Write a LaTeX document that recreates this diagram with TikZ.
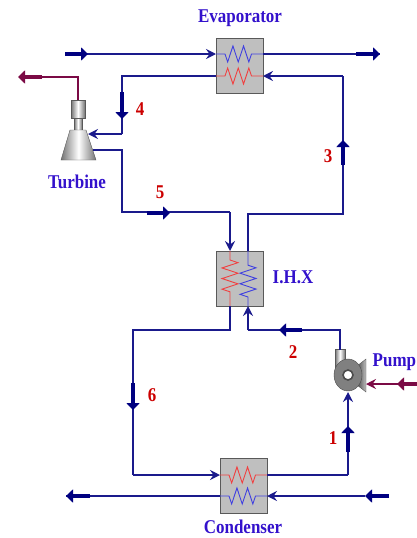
\documentclass[tikz,border=0pt]{standalone}
\usepackage{fontspec}
\setmainfont[FakeStretch=0.87]{Liberation Serif}
\usetikzlibrary{arrows.meta,decorations.pathmorphing}
\definecolor{pipecol}{HTML}{1A1A8C}
\definecolor{flowcol}{HTML}{000080}
\definecolor{workcol}{HTML}{7B0A45}
\definecolor{namecol}{HTML}{3311CC}
\definecolor{numcol}{HTML}{CC0000}
\definecolor{hotcol}{HTML}{F04040}
\definecolor{coldcol}{HTML}{4040E0}
\tikzset{
  hxbox/.style={draw=black!65,line width=0.9pt,fill=black!25,minimum width=47pt,minimum height=55pt,inner sep=0pt},
  pipe/.style={draw=pipecol,line width=1.4pt},
  pipein/.style={pipe,-{Stealth[length=10pt,width=10pt,inset=3.5pt]}},
  flow/.style={draw=flowcol,line width=4.4pt,-{Triangle[length=7pt,width=13pt]}},
  workline/.style={draw=workcol,line width=1.3pt},
  workflow/.style={draw=workcol,line width=4.4pt,-{Triangle[length=7pt,width=13pt]}},
  coil/.style={line width=0.9pt,decoration={zigzag,segment length=10.6pt,amplitude=8pt,pre length=9pt,post length=9pt},decorate},
  eqname/.style={text=namecol,font=\fontsize{19.5}{20}\selectfont\bfseries,inner sep=0pt,anchor=base},
  num/.style={text=numcol,font=\fontsize{19.5}{20}\selectfont\bfseries,inner sep=0pt,anchor=base},
  metal/.style={draw=black!65,left color=black!55,right color=black!55,middle color=white},
}
\begin{document}
\begin{tikzpicture}[x=1pt,y=-1pt]
\useasboundingbox (0,0) rectangle (417,538);
% heat exchangers
\node[hxbox] (evap) at (239.5,65.5) {};
\node[hxbox] (ihx) at (239.5,279) {};
\node[hxbox] (cond) at (243.5,485.5) {};
% points on the pipes
\foreach \n/\x/\y in {eva/65/54,evb/380/54,evc/216/54,evd/263/54,eve/216/76,evf/263/76,
  ca/343/76,cb/343/214,cc/248/214,cd/248/251,ce/248/306,cf/248/330,cg/340/330,ch/340/350,
  ta/122/76,tb/122/134,tc/88/134,td/93/150,te/122/150,tf/122/212,tg/230/212,th/230/251,
  ti/230/306,tj/230/330,tk/133/330,tl/133/475,tm/220/475,tn/267/475,to/348/475,tp/348/392,
  wa/78/100,wb/78/77,wc/42/77,wd/18/77,pa/417/384,pb/397/384,pc/366/384,
  cwb/365/496,cwc/267/496,cwd/220/496,cwf/66/496}
  \coordinate (\n) at (\x,\y);
% coils
\draw[coil,coldcol,decoration={mirror}] (evc)--(evd);
\draw[coil,hotcol] (eve)--(evf);
\draw[coil,hotcol] (th)--(ti);
\draw[coil,coldcol] (ce)--(cd);
\draw[coil,hotcol,decoration={mirror}] (tm)--(tn);
\draw[coil,coldcol,decoration={mirror}] (cwd)--(cwc);
% turbine
\draw[metal] (71,100) rectangle (85,118);
\draw[metal] (74,118) rectangle (82,130);
\draw[metal] (70,130)--(86,130)--(96,160)--(61,160)--cycle;
% pump
\draw[metal] (335,349) rectangle (345,368);
\draw[draw=black!65,left color=black!70,right color=black!25] (357,366)--(366,359)--(366,392)--(357,385)--cycle;
\draw[draw=black!70,fill=black!50] (348,375) ellipse (14pt and 16pt);
\draw[draw=black!70,fill=white,line width=1.6pt] (348,375) circle (5pt);
% pipes
\draw[pipein] (eva)--(evc);
\draw[pipe] (evd)--(evb);
\draw[pipein] (ca)--(evf);
\draw[pipe] (cd)--(cc)--(cb)--(ca);
\draw[pipe] (eve)--(ta)--(tb);
\draw[pipein] (tb)--(tc);
\draw[pipe] (td)--(te)--(tf)--(tg);
\draw[pipein] (tg)--(th);
\draw[pipe] (ti)--(tj)--(tk)--(tl);
\draw[pipein] (tl)--(tm);
\draw[pipe] (tn)--(to);
\draw[pipein] (to)--(tp);
\draw[pipe] (ch)--(cg)--(cf);
\draw[pipein] (cf)--(ce);
\draw[pipein] (cwb)--(cwc);
\draw[pipe] (cwd)--(cwf);
\draw[workline] (wa)--(wb)--(wc);
\draw[workline,-{Stealth[length=10pt,width=10pt,inset=3.5pt]}] (pa)--(pc);
% thick flow arrows
\foreach \x/\y/\u/\v in {65/54/88/54,356/54/380/54,343/165/343/140,122/92/122/119,147/213/170/213,
  133/383/133/410,302/330/279/330,348/452/348/426,389/496/365/496,90/496/66/496}
  \draw[flow] (\x,\y)--(\u,\v);
\draw[workflow] (wc)--(wd);
\draw[workflow] (pa)--(pb);
% labels
\node[eqname] (evapname) at (240,23) {Evaporator};
\node[eqname] (turbname) at (77,188) {Turbine};
\node[eqname] (ihxname) at (293,283) {I.H.X};
\node[eqname,anchor=base west] (pumpname) at (372.5,366) {Pump};
\node[eqname] (condname) at (243,533) {Condenser};
\foreach \t/\x/\y in {1/333/444,2/293/358,3/328/162,4/140/115,5/160/198,6/152/401}
  \node[num] (n\t) at (\x,\y) {\t};
\end{tikzpicture}
\end{document}
